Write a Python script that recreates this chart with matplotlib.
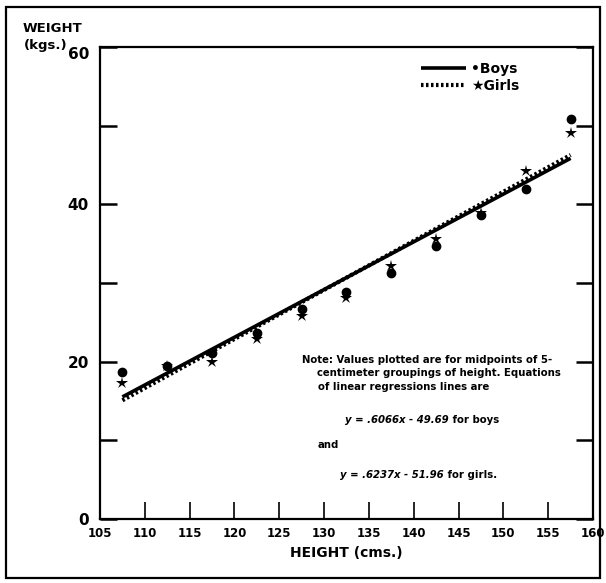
import matplotlib.pyplot as plt
from matplotlib.patches import Rectangle
import numpy as np

# Datos (peso medio por grupo de altura de 5 cm)
alturas = [107.5, 112.5, 117.5, 122.5, 127.5, 132.5, 137.5, 142.5, 147.5, 152.5, 157.5]
peso_ninos = [18.7, 19.4, 21.1, 23.7, 26.7, 28.9, 31.3, 34.7, 38.7, 42.0, 50.9]
peso_ninas = [17.3, 19.5, 19.9, 22.9, 25.8, 28.1, 32.2, 35.6, 38.9, 44.3, 49.1]

# Rectas de regresion indicadas en la nota
pendientes = {'boys': 0.6066, 'girls': 0.6237}
ordenadas = {'boys': -49.69, 'girls': -51.96}
rango_x = [107.5, 157.5]

xticks = list(range(105, 161, 5))
yticks_lab = [0, 20, 40, 60]

W, H = 606, 583
def fx(x):
    return x / W
def fy(y):
    return 1 - y / H

fig = plt.figure(figsize=(W / 100, H / 100), dpi=100)
ax = fig.add_axes([fx(100), fy(519), (593 - 100) / W, (519 - 47) / H])

# Rectas de regresion
xr = np.array(rango_x)
l_boys, = ax.plot(xr, pendientes['boys'] * xr + ordenadas['boys'], color='black', lw=2.6,
                  solid_capstyle='butt')
l_girls, = ax.plot(xr, pendientes['girls'] * xr + ordenadas['girls'], color='black', lw=3.0,
                   linestyle=(0, (0.6, 0.6)))

# Puntos
ax.plot(alturas, peso_ninos, 'o', color='black', ms=6)
ax.plot(alturas, peso_ninas, '*', color='black', ms=9, mew=0)

ax.set_xlim(105, 160)
ax.set_ylim(0, 60)
ax.set_xticks(xticks)
ax.set_xticklabels([str(t) for t in xticks], fontsize=8.5, fontweight='bold')
ax.set_yticks(range(0, 61, 10))
ax.set_yticklabels([str(t) if t in yticks_lab else '' for t in range(0, 61, 10)],
                   fontsize=11, fontweight='bold')
ax.get_yticklabels()[-1].set_va('top')
ax.tick_params(axis='x', direction='in', length=12, width=1.2, pad=6)
ax.tick_params(axis='y', direction='in', length=12, width=1.8, pad=8, right=True)
for s in ax.spines.values():
    s.set_linewidth(1.6)

ax.set_xlabel('HEIGHT (cms.)', fontsize=10, fontweight='bold', labelpad=4)
fig.text(fx(52), fy(28), 'WEIGHT', ha='center', va='center', fontsize=9.5, fontweight='bold')
fig.text(fx(46), fy(45), '(kgs.)', ha='center', va='center', fontsize=9.5, fontweight='bold')

# Leyenda
ax.legend(handles=[l_boys, l_girls], labels=['•Boys', '★Girls'], loc='upper right',
          bbox_to_anchor=(0.875, 0.995), frameon=False, handlelength=3.3, handletextpad=0.3,
          labelspacing=0.2, prop={'family': 'DejaVu Sans', 'weight': 'bold', 'size': 10})

# Nota
fs = 7.3
nota = ['Note: Values plotted are for midpoints of 5-',
        'centimeter groupings of height. Equations',
        'of linear regressions lines are']
nota_pos = [(302, 360), (317, 373), (318, 387)]
for txt, (x, y) in zip(nota, nota_pos):
    fig.text(fx(x), fy(y), txt, fontsize=fs, fontweight='bold', va='center')
fig.text(fx(318), fy(445), 'and', fontsize=fs, fontweight='bold', va='center')

ecuaciones = [('y = .6066x - 49.69', ' for boys', 345, 420),
              ('y = .6237x - 51.96', ' for girls.', 340, 475)]
eq_textos = []
for eq, resto, x, y in ecuaciones:
    t = fig.text(fx(x), fy(y), eq, fontsize=fs, fontweight='bold', style='italic', va='center')
    eq_textos.append((t, resto, y))
fig.draw_without_rendering()
for t, resto, y in eq_textos:
    bb = t.get_window_extent()
    fig.text(bb.x1 / fig.bbox.width, fy(y), resto, fontsize=fs, fontweight='bold', va='center')

# Marco exterior
fig.patches.append(Rectangle((fx(6), fy(578)), (600 - 6) / W, (578 - 7) / H,
                             transform=fig.transFigure, fill=False, lw=1.6, color='black'))

fig.savefig('out.png', dpi=100)
